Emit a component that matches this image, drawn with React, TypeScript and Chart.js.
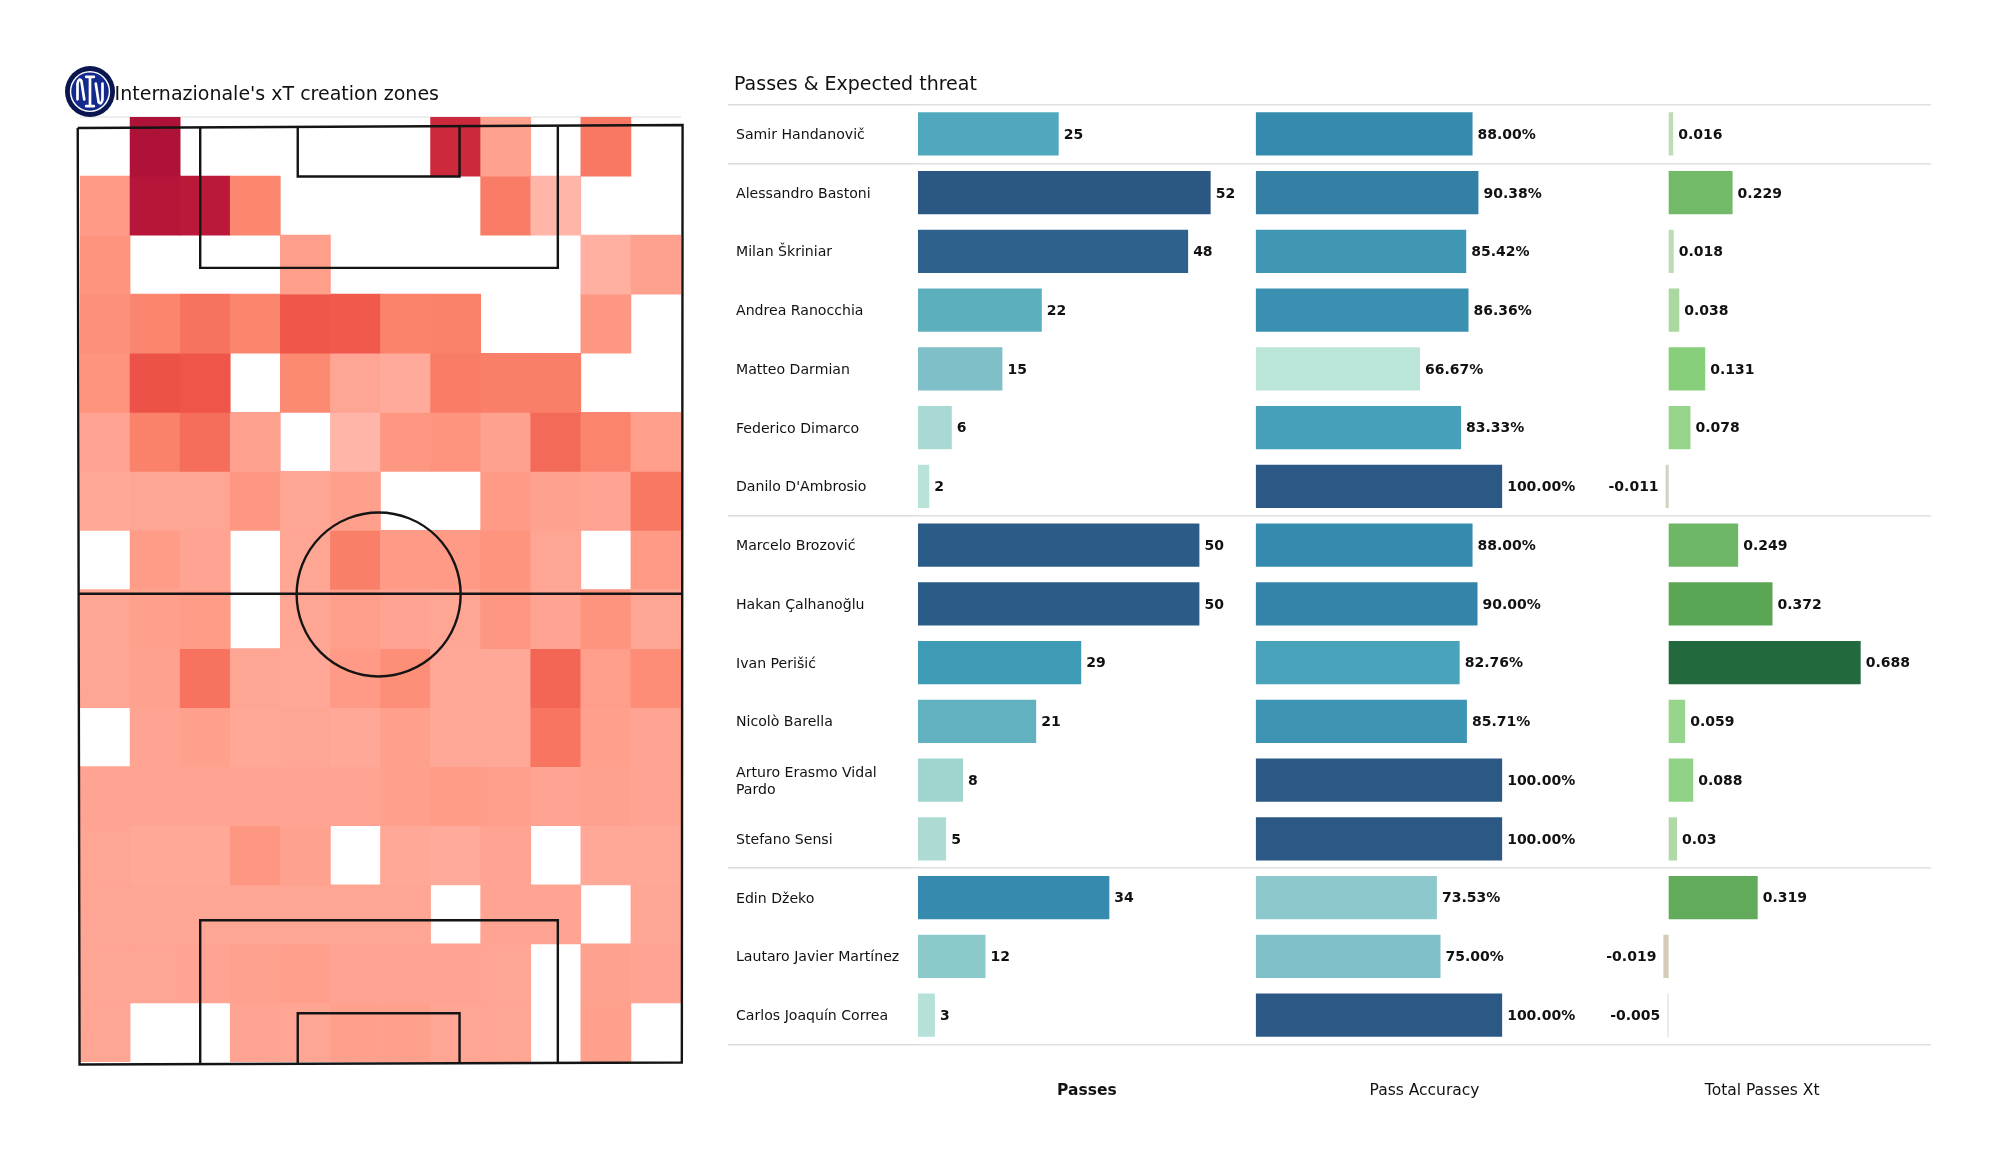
import React, { useEffect, useRef } from "react";
import { Chart, registerables } from "chart.js";

Chart.register(...registerables);

const FONT = "'DejaVu Sans', sans-serif";

// ---------- players table ----------
const players: (string | string[])[] = [
  "Samir Handanovič", "Alessandro Bastoni", "Milan Škriniar", "Andrea Ranocchia", "Matteo Darmian",
  "Federico Dimarco", "Danilo D'Ambrosio", "Marcelo Brozović", "Hakan Çalhanoğlu", "Ivan Perišić",
  "Nicolò Barella", ["Arturo Erasmo Vidal", "Pardo"], "Stefano Sensi", "Edin Džeko",
  "Lautaro Javier Martínez", "Carlos Joaquín Correa",
];
const passes = [25, 52, 48, 22, 15, 6, 2, 50, 50, 29, 21, 8, 5, 34, 12, 3];
const passAccuracy = [88, 90.38, 85.42, 86.36, 66.67, 83.33, 100, 88, 90, 82.76, 85.71, 100, 100, 73.53, 75, 100];
const totalXt = [0.016, 0.229, 0.018, 0.038, 0.131, 0.078, -0.011, 0.249, 0.372, 0.688, 0.059, 0.088, 0.03, 0.319, -0.019, -0.005];
const xtLabels = ["0.016", "0.229", "0.018", "0.038", "0.131", "0.078", "-0.011", "0.249", "0.372", "0.688", "0.059", "0.088", "0.03", "0.319", "-0.019", "-0.005"];
const passColors = ["#4FA8BD", "#2B5783", "#2E628D", "#5EAFBE", "#7FC0C8", "#A8D9D2", "#B9E3D8", "#2B5C88", "#2B5C88", "#3F9AB5", "#62B1C1", "#A0D5CF", "#ADDBD3", "#368AAE", "#8CC9CB", "#B5E1D8"];
const accuracyColors = ["#358BAD", "#3480A5", "#3F97B4", "#3A90B1", "#BCE5DA", "#46A0B9", "#2B5884", "#358BAD", "#3483A8", "#49A3BB", "#3D95B3", "#2B5884", "#2B5884", "#8DC8CC", "#80C1C9", "#2B5884"];
const xtColors = ["#BFDDB5", "#72BA68", "#BCDCB2", "#ABD7A0", "#87CE7B", "#95D489", "#CBD5BF", "#6EB766", "#5AA655", "#22693E", "#97D48C", "#91D386", "#B0D9A6", "#62AB5B", "#D5CDB8", "#E5E5D8"];
const separatorsAfter = [1, 7, 13];
const columnTitles = ["Passes", "Pass Accuracy", "Total Passes Xt"];

// ---------- heat map (12 columns x 16 rows, top row first; 0 = empty zone) ----------
const heatColumns = ["0", "1", "2", "3", "4", "5", "6", "7", "8", "9", "10", "11"];
const heatRows: number[][] = [
  [0, 100, 0, 0, 0, 0, 0, 85, 16, 0, 42, 0],
  [20, 95, 93, 32, 0, 0, 0, 0, 40, 8, 0, 0],
  [24, 0, 0, 0, 18, 0, 0, 0, 0, 0, 10, 16],
  [26, 33, 45, 33, 60, 58, 35, 36, 0, 0, 22, 0],
  [24, 62, 60, 0, 30, 14, 12, 40, 38, 38, 0, 0],
  [15, 36, 48, 16, 0, 8, 22, 24, 16, 50, 34, 18],
  [13, 14, 14, 22, 14, 17, 0, 0, 20, 16, 15, 42],
  [0, 19, 15, 0, 14, 38, 20, 20, 24, 14, 0, 20],
  [14, 17, 19, 0, 14, 18, 15, 14, 22, 15, 24, 14],
  [14, 16, 45, 14, 13, 20, 27, 13, 13, 52, 18, 28],
  [0, 15, 17, 13, 14, 13, 17, 13, 13, 44, 17, 15],
  [15, 15, 15, 15, 15, 15, 17, 19, 18, 15, 16, 15],
  [14, 13, 13, 22, 16, 0, 13, 12, 15, 0, 13, 13],
  [14, 14, 14, 14, 14, 14, 14, 0, 15, 15, 0, 14],
  [14, 14, 15, 16, 18, 15, 15, 15, 14, 0, 16, 15],
  [14, 0, 0, 15, 14, 17, 17, 14, 14, 0, 17, 0],
];
const heatStops: [number, number[]][] = [
  [8, [255, 181, 168]], [14, [255, 165, 148]], [20, [255, 154, 134]], [30, [252, 138, 115]],
  [40, [249, 124, 102]], [50, [244, 106, 89]], [60, [239, 85, 73]], [85, [204, 42, 60]],
  [95, [184, 21, 58]], [100, [174, 18, 56]],
];
function heatColor(v: number): string {
  for (let i = 0; i < heatStops.length - 1; i++) {
    const [a, ca] = heatStops[i];
    const [b, cb] = heatStops[i + 1];
    if (v <= b) {
      const t = Math.max(0, (v - a) / (b - a));
      const c = ca.map((x, k) => Math.round(x + (cb[k] - x) * t));
      return `rgb(${c[0]},${c[1]},${c[2]})`;
    }
  }
  return "rgb(174,18,56)";
}

// ---------- pitch markings, in pitch units (80 wide, 120 long) ----------
const pitchOutline = [{ x: 0, y: 0.19 }, { x: 80, y: -0.19 }, { x: 79.9, y: 119.8 }, { x: 0.24, y: 120.06 }, { x: 0, y: 0.19 }];
const halfway = [{ x: 0.1, y: 59.8 }, { x: 79.95, y: 59.8 }];
const topBox = [{ x: 16.2, y: 0 }, { x: 16.2, y: 18.1 }, { x: 63.5, y: 18.1 }, { x: 63.5, y: 0 }];
const topSix = [{ x: 29.1, y: 0 }, { x: 29.1, y: 6.4 }, { x: 50.5, y: 6.4 }, { x: 50.5, y: 0 }];
const bottomBox = [{ x: 16.2, y: 120 }, { x: 16.2, y: 101.6 }, { x: 63.5, y: 101.6 }, { x: 63.5, y: 120 }];
const bottomSix = [{ x: 29.1, y: 120 }, { x: 29.1, y: 113.5 }, { x: 50.5, y: 113.5 }, { x: 50.5, y: 120 }];
const centreCircle = [{ x: 39.8, y: 59.9, r: 82 }];
const topRule = [{ x: 0.3, y: -1.216 }, { x: 79.79, y: -1.216 }];

const HEAT_TITLE = "Internazionale's xT creation zones";
const TABLE_TITLE = "Passes & Expected threat";

function fmtAccuracy(v: number) {
  return v.toFixed(2) + "%";
}

const barLabelsPlugin = {
  id: "barLabels",
  afterDatasetsDraw(chart: any) {
    const { ctx } = chart;
    ctx.save();
    ctx.font = `bold 14px ${FONT}`;
    ctx.fillStyle = "#111";
    ctx.textBaseline = "middle";
    chart.data.datasets.forEach((ds: any, di: number) => {
      chart.getDatasetMeta(di).data.forEach((bar: any, i: number) => {
        const neg = ds.data[i] < 0;
        ctx.textAlign = neg ? "right" : "left";
        ctx.fillText(ds.valueText(i), bar.x + (neg ? -7 : 5), bar.y + 1.2);
      });
    });
    ctx.restore();
  },
};

// Lets a chart title start somewhere other than the left edge of the layout.
const titleLeftPlugin = (left: number) => ({
  id: "titleLeft",
  afterLayout(chart: any) {
    if (chart.titleBlock) chart.titleBlock.left = left;
  },
});

export default function App() {
  const heatRef = useRef<HTMLCanvasElement>(null);
  const tableRef = useRef<HTMLCanvasElement>(null);

  useEffect(() => {
    const line = (data: any[], extra: any = {}) => ({
      type: "line",
      data,
      xAxisID: "px",
      yAxisID: "py",
      borderColor: "#141414",
      borderWidth: 2.4,
      pointRadius: 0,
      fill: false,
      tension: 0,
      clip: false,
      order: 0,
      ...extra,
    });
    const heat = new Chart(heatRef.current!, {
      type: "bar",
      plugins: [titleLeftPlugin(114.6)],
      data: {
        labels: heatColumns,
        datasets: [
          ...heatRows.map((row, r) => ({
            type: "bar",
            data: row.map((v) => (v > 0 ? [r, r + 1] : null)),
            backgroundColor: row.map(heatColor),
            xAxisID: "x",
            yAxisID: "y",
            grouped: false,
            barPercentage: 1,
            categoryPercentage: 1,
            order: 2,
          })),
          line(topRule, { borderColor: "#e8e8e8", borderWidth: 1.5, order: 3 }),
          line(pitchOutline),
          line(halfway),
          line(topBox),
          line(topSix),
          line(bottomBox),
          line(bottomSix),
          {
            type: "bubble",
            data: centreCircle,
            xAxisID: "px",
            yAxisID: "py",
            backgroundColor: "rgba(0,0,0,0)",
            borderColor: "#141414",
            borderWidth: 2.4,
            clip: false,
            order: 0,
          },
        ] as any,
      },
      options: {
        animation: false,
        responsive: false,
        layout: { autoPadding: false, padding: { left: 80, top: 0, right: 19, bottom: 18 } },
        plugins: {
          legend: { display: false },
          tooltip: { enabled: false },
          title: {
            display: true,
            text: HEAT_TITLE,
            align: "start",
            color: "#111",
            font: { family: FONT, size: 19, weight: "normal" },
            padding: { top: 83.6, bottom: 10.6 },
          },
        },
        scales: {
          x: { type: "category", display: false, grid: { display: false } },
          y: { type: "linear", display: false, reverse: true, min: 0, max: 16, grid: { display: false } },
          px: { axis: "x", type: "linear", display: false, offset: false, min: 0.3, max: 79.79 },
          py: { axis: "y", type: "linear", display: false, reverse: true, min: -1.216, max: 119.74 },
        },
      } as any,
    });

    const commonBar = { barPercentage: 0.737, categoryPercentage: 1, grouped: false, yAxisID: "y", borderWidth: 0 };
    const hiddenAxis = (title: string, bold: boolean, min: number, max: number) => ({
      type: "linear",
      position: "bottom",
      stack: "columns",
      stackWeight: 1,
      min,
      max,
      grid: { display: false, drawTicks: false },
      border: { display: false },
      ticks: { display: false },
      title: {
        display: true,
        text: title,
        color: "#111",
        font: { family: FONT, size: 15.5, weight: bold ? "bold" : "normal" },
        padding: { top: 37, bottom: 0 },
      },
    });
    const isLine = (i: number | undefined) => i === undefined || i === 0 || separatorsAfter.includes(i);
    const table = new Chart(tableRef.current!, {
      type: "bar",
      plugins: [barLabelsPlugin, titleLeftPlugin(734)],
      data: {
        labels: players as any,
        datasets: [
          { ...commonBar, data: passes, backgroundColor: passColors, xAxisID: "xPasses", valueText: (i: number) => String(passes[i]) },
          { ...commonBar, data: passAccuracy, backgroundColor: accuracyColors, xAxisID: "xAccuracy", valueText: (i: number) => fmtAccuracy(passAccuracy[i]) },
          { ...commonBar, data: totalXt, backgroundColor: xtColors, xAxisID: "xXt", valueText: (i: number) => xtLabels[i] },
        ] as any,
      },
      options: {
        indexAxis: "y",
        animation: false,
        responsive: false,
        layout: { padding: { left: 736, top: 60, right: 69, bottom: 75 } },
        plugins: {
          legend: { display: false },
          tooltip: { enabled: false },
          title: {
            display: true,
            text: TABLE_TITLE,
            align: "start",
            color: "#111",
            font: { family: FONT, size: 19, weight: "normal" },
            padding: { top: 13.6, bottom: 8.2 },
          },
        },
        scales: {
          y: {
            type: "category",
            position: "left",
            afterFit: (s: any) => { s.width = 182; },
            border: { display: false },
            grid: {
              offset: true,
              tickLength: 190,
              color: (c: any) => (isLine(c.index) ? "#e0e0e0" : "rgba(0,0,0,0)"),
              tickColor: (c: any) => (isLine(c.index) ? "#dcdcdc" : "rgba(0,0,0,0)"),
              lineWidth: 1.6,
            },
            ticks: {
              crossAlign: "far",
              autoSkip: false,
              color: "#111",
              font: { family: FONT, size: 14.1 },
              padding: 0,
              labelOffset: 1.3,
            },
          },
          xPasses: hiddenAxis(columnTitles[0], true, 0, 60),
          xAccuracy: hiddenAxis(columnTitles[1], false, 0, 137),
          xXt: hiddenAxis(columnTitles[2], false, -0.27, 0.94),
        },
      } as any,
    });
    return () => {
      heat.destroy();
      table.destroy();
    };
  }, []);

  return (
    <div style={{ position: "absolute", left: 0, top: 0, width: 2000, height: 1175, overflow: "hidden", background: "#fff" }}>
      <canvas ref={heatRef} width={700} height={1080} style={{ position: "absolute", left: 0, top: 0, width: 700, height: 1080 }} />
      <canvas ref={tableRef} width={2000} height={1175} style={{ position: "absolute", left: 0, top: 0, width: 2000, height: 1175 }} />
      <svg width={50} height={51} viewBox="0 0 52 52" preserveAspectRatio="none" style={{ position: "absolute", left: 65, top: 65.5 }}>
        <circle cx={26} cy={26} r={26} fill="#0a1650" />
        <circle cx={26} cy={26} r={21} fill="#ffffff" />
        <circle cx={26} cy={26} r={19.5} fill="#14298c" />
        <g fill="none" stroke="#fff" strokeWidth={2.8} strokeLinecap="round" strokeLinejoin="round">
          <path d="M26 11V41M22 11H30M22 41H30" />
          <path d="M13 34V18Q14 12 17 15L20 34" />
          <path d="M39 18V34Q38 40 35 37L32 18" />
        </g>
      </svg>
    </div>
  );
}
